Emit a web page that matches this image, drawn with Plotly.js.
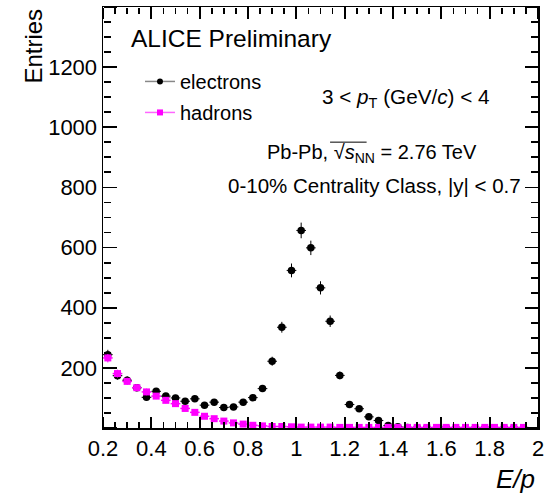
<!DOCTYPE html>
<html>
<head>
<meta charset="utf-8">
<script src="https://cdn.plot.ly/plotly-3.0.1.min.js"></script>
<style>html,body{margin:0;padding:0;background:#fff;}#chart{width:557px;height:496px;}</style>
</head>
<body>
<div id="chart"></div>
<script>
// Bin centres (E/p), bin width 0.04
var binCenters = [0.22,0.26,0.30,0.34,0.38,0.42,0.46,0.50,0.54,0.58,0.62,0.66,0.70,0.74,0.78,0.82,0.86,0.90,0.94,0.98,
                  1.02,1.06,1.10,1.14,1.18,1.22,1.26,1.30,1.34,1.38,1.42,1.46,1.50,1.54,1.58,1.62,1.66,1.70,1.74,1.78,
                  1.82,1.86,1.90,1.94];
var electrons = [244,174,159,134,102,122,106,100,89,97,76,86,68,70,86,101,131,222,335,524,
                 657,599,466,355,175,78,64,37,25,8,4,2,1,1,1,1,0,0,0,0,
                 0,0,0,0];
var electronErr = [16,13,13,12,10,11,10,10,9,10,9,9,8,8,9,10,11,15,18,23,
                   26,24,22,19,13,9,8,6,5,3,2,1,1,1,1,1,0,0,0,0,
                   0,0,0,0];
var hadrons = [233,181,155,134,120,106,92,81,65,52,39,31,23,17,13,9,7,5,5,4,
               3,3,3,3,2,2,2,2,2,2,2,2,2,2,2,2,2,2,2,2,
               2,2,2,2];
var hadronErr = [15,13,12,12,11,10,10,9,8,7,6,6,5,4,4,3,3,2,2,2,
                 2,2,2,2,1,1,1,1,1,1,1,1,1,1,1,1,1,1,1,1,
                 1,1,1,1];
var xTickVals = [0.2,0.4,0.6,0.8,1.0,1.2,1.4,1.6,1.8,2.0];
var xTickText = ["0.2","0.4","0.6","0.8","1","1.2","1.4","1.6","1.8","2"];
var yTickVals = [200,400,600,800,1000,1200];
var yTickText = ["200","400","600","800","1000","1200"];
var xRange = [0.2, 2.0];
var yRange = [0, 1400];

var FONT = "Liberation Sans, Arial, Helvetica, sans-serif";

var traces = [
  {
    x: binCenters, y: electrons, type: 'scatter', mode: 'markers', showlegend: false,
    marker: {color: 'black', size: 7.5, symbol: 'circle'},
    error_y: {type: 'data', array: electronErr, visible: true, color: 'black', thickness: 1, width: 0},
    error_x: {type: 'constant', value: 0.02, visible: true, color: 'black', thickness: 1, width: 0},
    hoverinfo: 'skip'
  },
  {
    x: binCenters, y: hadrons, type: 'scatter', mode: 'markers', showlegend: false,
    marker: {color: '#ff00ff', size: 7, symbol: 'square'},
    error_y: {type: 'data', array: hadronErr, visible: true, color: '#ff00ff', thickness: 1, width: 0},
    error_x: {type: 'constant', value: 0.02, visible: true, color: '#ff00ff', thickness: 1.5, width: 0},
    hoverinfo: 'skip'
  },
  {
    x: [null], y: [null], type: 'scatter', mode: 'lines+markers', name: 'electrons',
    legendgroup: 'e', line: {color: '#888888', width: 1.5},
    marker: {color: 'black', size: 6, symbol: 'circle'}
  },
  {
    x: [null], y: [null], type: 'scatter', mode: 'lines+markers', name: 'hadrons',
    legendgroup: 'h', line: {color: '#ff66ff', width: 1.5},
    marker: {color: '#ff00ff', size: 6, symbol: 'square'}
  }
];
// empty traces that carry the tick-only overlay axes
['2','3','4','5'].forEach(function (n) {
  traces.push({x: [null], y: [null], type: 'scatter', mode: 'markers', showlegend: false,
               xaxis: 'x' + n, yaxis: 'y' + n, hoverinfo: 'skip'});
});

function tickAxis(base, extra) {
  var a = {
    overlaying: base, anchor: 'free', showticklabels: false, showline: false,
    showgrid: false, zeroline: false, ticks: 'outside', tickcolor: '#000000', tickwidth: 1.8,
    fixedrange: true
  };
  for (var k in extra) a[k] = extra[k];
  return a;
}

var layout = {
  width: 557, height: 496,
  margin: {l: 103, r: 19, t: 7, b: 68},
  paper_bgcolor: 'white', plot_bgcolor: 'rgba(0,0,0,0)',
  showlegend: true,
  legend: {
    x: 0.085, y: 0.8695, xanchor: 'left', yanchor: 'top',
    bgcolor: 'rgba(0,0,0,0)', borderwidth: 0,
    font: {family: FONT, size: 20, color: 'black'},
    traceorder: 'grouped', tracegroupgap: 2
  },
  xaxis: {
    range: xRange, tickmode: 'array', tickvals: xTickVals, ticktext: xTickText,
    ticks: 'inside', ticklen: 11, tickwidth: 1.8, tickcolor: '#000000',
    showline: true, linecolor: '#000000', linewidth: 1.5, mirror: 'ticks',
    showgrid: false, zeroline: false,
    tickfont: {family: FONT, size: 22, color: 'black'}
  },
  yaxis: {
    range: yRange, tickmode: 'array', tickvals: yTickVals, ticktext: yTickText,
    ticks: 'inside', ticklen: 13, tickwidth: 1.8, tickcolor: '#000000',
    showline: true, linecolor: '#000000', linewidth: 1.5, mirror: 'ticks',
    showgrid: false, zeroline: false,
    tickfont: {family: FONT, size: 22, color: 'black'}
  },
  // bottom & top tick rows (major, minor), pointing into the frame
  xaxis2: tickAxis('x', {range: xRange, side: 'top', position: 0, tickmode: 'array', tickvals: xTickVals, ticklen: 11}),
  xaxis3: tickAxis('x', {range: xRange, side: 'top', position: 0, tickmode: 'linear', tick0: 0.2, dtick: 0.05, ticklen: 6}),
  xaxis4: tickAxis('x', {range: xRange, side: 'bottom', position: 1, tickmode: 'array', tickvals: xTickVals, ticklen: 11}),
  xaxis5: tickAxis('x', {range: xRange, side: 'bottom', position: 1, tickmode: 'linear', tick0: 0.2, dtick: 0.05, ticklen: 6}),
  // left & right tick columns (major, minor), pointing into the frame
  yaxis2: tickAxis('y', {range: yRange, side: 'right', position: 0, tickmode: 'linear', tick0: 0, dtick: 200, ticklen: 13}),
  yaxis3: tickAxis('y', {range: yRange, side: 'right', position: 0, tickmode: 'linear', tick0: 0, dtick: 50, ticklen: 7}),
  yaxis4: tickAxis('y', {range: yRange, side: 'left', position: 1, tickmode: 'linear', tick0: 0, dtick: 200, ticklen: 13}),
  yaxis5: tickAxis('y', {range: yRange, side: 'left', position: 1, tickmode: 'linear', tick0: 0, dtick: 50, ticklen: 7}),
  shapes: [
    {type: 'line', xref: 'paper', yref: 'paper', x0: 0.522, x1: 0.606, y0: 0.679, y1: 0.679,
     line: {color: 'black', width: 1}}
  ],
  annotations: [
    {text: 'ALICE Preliminary', xref: 'paper', yref: 'paper', x: 0.059, y: 0.924, xanchor: 'left', yanchor: 'middle',
     showarrow: false, font: {family: FONT, size: 24.5, color: 'black'}},
    {text: '3 &lt; <i>p</i><sub>T</sub> (GeV/<i>c</i>) &lt; 4', xref: 'paper', yref: 'paper', x: 0.499, y: 0.784,
     xanchor: 'left', yanchor: 'middle', showarrow: false, font: {family: FONT, size: 20.7, color: 'black'}},
    {text: 'Pb-Pb, √<i>s</i><sub>NN</sub> = 2.76 TeV', xref: 'paper', yref: 'paper', x: 0.372, y: 0.653,
     xanchor: 'left', yanchor: 'middle', showarrow: false, font: {family: FONT, size: 20, color: 'black'}},
    {text: '0-10% Centrality Class, |y| &lt; 0.7', xref: 'paper', yref: 'paper', x: 0.283, y: 0.575,
     xanchor: 'left', yanchor: 'middle', showarrow: false, font: {family: FONT, size: 20.5, color: 'black'}},
    {text: 'Entries', xref: 'paper', yref: 'paper', x: -0.1586, y: 0.906, xanchor: 'center', yanchor: 'middle',
     textangle: -90, showarrow: false, font: {family: FONT, size: 24, color: 'black'}},
    {text: '<i>E/p</i>', xref: 'paper', yref: 'paper', x: 0.949, y: -0.122, xanchor: 'center', yanchor: 'middle',
     showarrow: false, font: {family: FONT, size: 26, color: 'black'}}
  ]
};

Plotly.newPlot('chart', traces, layout, {staticPlot: true, displayModeBar: false});
</script>
</body>
</html>
